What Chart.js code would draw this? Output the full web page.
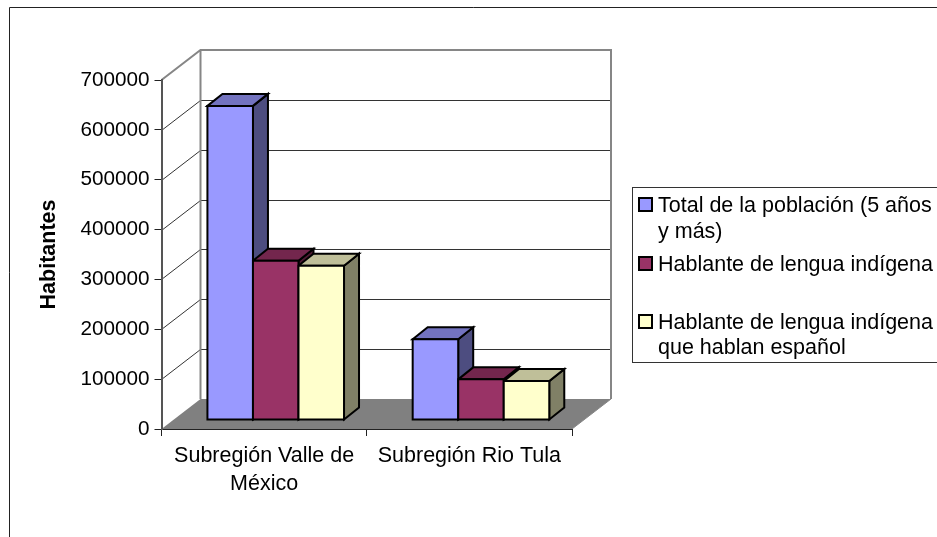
<!DOCTYPE html>
<html>
<head>
<meta charset="utf-8">
<style>
  html, body { margin: 0; padding: 0; background: #fff; overflow: hidden; }
  canvas { display: block; }
</style>
<script src="https://cdn.jsdelivr.net/npm/chart.js@4"></script>
</head>
<body>
<canvas id="chart" width="937" height="537"></canvas>
<script>
const categories = [['Subregión Valle de', 'México'], 'Subregión Rio Tula'];
const seriesNames = ['Total de la población (5 años y más)', 'Hablante de lengua indígena', 'Hablante de lengua indígena que hablan español'];
const totalPoblacion = [630000, 162000];
const hablanteIndigena = [319500, 81500];
const hablanteEspanol = [309500, 78000];
const seriesColors = ['#9999ff', '#993366', '#ffffcc'];
const legendLines = [['Total de la población (5 años', 'y más)'], ['Hablante de lengua indígena'], ['Hablante de lengua indígena', 'que hablan español']];
const legendBaselines = [[212, 238], [271], [329, 354]];
const yMax = 700000;
const yStep = 100000;

const FONT = '"Liberation Sans", Arial, sans-serif';
const DEPTH_X = 39, DEPTH_Y = 30;       // wall depth
const BAR_X = 11.6, BAR_Y = 9;          // bars stand a bit inside the floor
const BAR_DX = 15, BAR_DY = 12;         // bar extrusion

function shade(hex, f) {
  const n = parseInt(hex.slice(1), 16);
  return `rgb(${(n >> 16) * f}, ${((n >> 8) & 255) * f}, ${(n & 255) * f})`;
}

function poly(ctx, pts, fill, stroke, lw) {
  ctx.beginPath();
  pts.forEach((p, i) => i ? ctx.lineTo(p[0], p[1]) : ctx.moveTo(p[0], p[1]));
  ctx.closePath();
  if (fill) { ctx.fillStyle = fill; ctx.fill(); }
  if (stroke) { ctx.strokeStyle = stroke; ctx.lineWidth = lw; ctx.lineJoin = 'miter'; ctx.stroke(); }
}

const box3d = {
  id: 'box3d',
  // move the bars back onto the floor
  afterDatasetsUpdate(chart) {
    chart.data.datasets.forEach((d, i) => {
      chart.getDatasetMeta(i).data.forEach(el => {
        el.x += BAR_X;
        el.y -= BAR_Y;
        el.base -= BAR_Y;
      });
    });
  },
  beforeDraw(chart) {
    const { ctx, chartArea: a, scales: { y } } = chart;
    ctx.save();
    // outer frame, cut by the page on the right and bottom
    ctx.strokeStyle = '#222';
    ctx.lineWidth = 1;
    ctx.beginPath();
    ctx.moveTo(9.5, 537);
    ctx.lineTo(9.5, 7.5);
    ctx.lineTo(937, 7.5);
    ctx.stroke();

    // gridlines on both walls
    ctx.strokeStyle = '#333';
    ctx.lineWidth = 1;
    y.ticks.forEach(t => {
      if (t.value === 0 || t.value === yMax) return;
      const py = Math.round(y.getPixelForValue(t.value)) + 0.5;
      ctx.beginPath();
      ctx.moveTo(a.left, py);
      ctx.lineTo(a.left + DEPTH_X, py - DEPTH_Y);
      ctx.lineTo(a.right + DEPTH_X, py - DEPTH_Y);
      ctx.stroke();
    });

    // wall outlines
    const top = y.getPixelForValue(yMax), bot = y.getPixelForValue(0);
    ctx.strokeStyle = '#868686';
    ctx.lineWidth = 2;
    ctx.beginPath();
    ctx.moveTo(a.left, top);
    ctx.lineTo(a.left + DEPTH_X, top - DEPTH_Y);
    ctx.lineTo(a.right + DEPTH_X, top - DEPTH_Y);
    ctx.lineTo(a.right + DEPTH_X, bot - DEPTH_Y);
    ctx.moveTo(a.left + DEPTH_X, top - DEPTH_Y);
    ctx.lineTo(a.left + DEPTH_X, bot - DEPTH_Y);
    ctx.stroke();

    // floor
    poly(ctx, [[a.left, bot], [a.left + DEPTH_X, bot - DEPTH_Y], [a.right + DEPTH_X, bot - DEPTH_Y], [a.right, bot]], '#808080');
    ctx.strokeStyle = '#868686';
    ctx.lineWidth = 1;
    ctx.beginPath();
    ctx.moveTo(a.right, bot);
    ctx.lineTo(a.right + DEPTH_X, bot - DEPTH_Y);
    ctx.stroke();
    ctx.restore();
  },
  afterDatasetsDraw(chart) {
    const { ctx } = chart;
    ctx.save();
    const metas = chart.data.datasets.map((d, i) => chart.getDatasetMeta(i));
    // groups are drawn left to right, series back over front order
    chart.data.labels.forEach((l, c) => {
      metas.forEach((meta, s) => {
        const el = meta.data[c];
        const col = seriesColors[s];
        const x0 = el.x - el.width / 2, x1 = el.x + el.width / 2;
        poly(ctx, [[x1, el.y], [x1 + BAR_DX, el.y - BAR_DY], [x1 + BAR_DX, el.base - BAR_DY], [x1, el.base]], shade(col, 0.5), '#000', 2);
        poly(ctx, [[x0, el.y], [x0 + BAR_DX, el.y - BAR_DY], [x1 + BAR_DX, el.y - BAR_DY], [x1, el.y]], shade(col, 0.75), '#000', 2);
      });
      metas.forEach((meta, s) => {
        const el = meta.data[c];
        const x0 = el.x - el.width / 2, x1 = el.x + el.width / 2;
        poly(ctx, [[x0, el.y], [x1, el.y], [x1, el.base], [x0, el.base]], seriesColors[s], '#000', 2);
      });
    });

    // legend box and entries
    ctx.strokeStyle = '#333';
    ctx.lineWidth = 1;
    ctx.strokeRect(632.5, 187.5, 320, 175);
    ctx.font = '21.5px ' + FONT;
    ctx.textAlign = 'left';
    ctx.textBaseline = 'alphabetic';
    legendLines.forEach((lines, s) => {
      const b = legendBaselines[s];
      poly(ctx, [[639, b[0] - 14], [652, b[0] - 14], [652, b[0] - 1], [639, b[0] - 1]], seriesColors[s], '#000', 2);
      ctx.fillStyle = '#000';
      lines.forEach((txt, i) => ctx.fillText(txt, 658, b[i]));
    });
    ctx.restore();
  }
};

new Chart(document.getElementById('chart'), {
  type: 'bar',
  data: {
    labels: categories,
    datasets: [
      { label: seriesNames[0], data: totalPoblacion, backgroundColor: seriesColors[0] },
      { label: seriesNames[1], data: hablanteIndigena, backgroundColor: seriesColors[1] },
      { label: seriesNames[2], data: hablanteEspanol, backgroundColor: seriesColors[2] }
    ]
  },
  options: {
    responsive: false,
    animation: false,
    events: [],
    layout: { padding: { left: 38, top: 80, right: 365, bottom: 0 } },
    datasets: { bar: { barPercentage: 1, categoryPercentage: 0.6655, borderWidth: 0, inflateAmount: 0 } },
    plugins: { legend: { display: false }, tooltip: { enabled: false } },
    scales: {
      x: {
        afterFit(s) { s.height = 108; },
        grid: { drawOnChartArea: false, color: '#222', tickLength: 7 },
        border: { color: '#222', width: 1 },
        ticks: { color: '#000', font: { family: FONT, size: 21.5, lineHeight: 1.3 }, padding: 6, maxRotation: 0, autoSkip: false }
      },
      y: {
        min: 0,
        max: yMax,
        afterFit(s) { s.width = 123.5; },
        title: { display: true, text: 'Habitantes', color: '#000', font: { family: FONT, size: 21.5, weight: 'bold', lineHeight: 1 }, padding: 0 },
        grid: { drawOnChartArea: false, color: '#222', tickLength: 7 },
        border: { color: '#555', width: 2 },
        ticks: { stepSize: yStep, color: '#000', font: { family: FONT, size: 20.7 }, padding: 5, callback: v => String(v) }
      }
    }
  },
  plugins: [box3d]
});
</script>
</body>
</html>
